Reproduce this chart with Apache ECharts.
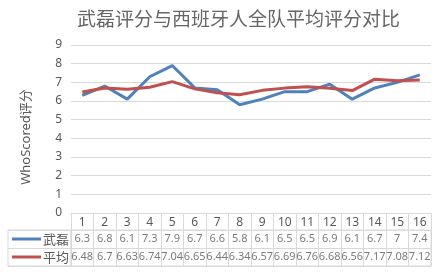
<!DOCTYPE html>
<html><head><meta charset="utf-8">
<script src="https://cdn.jsdelivr.net/npm/echarts@6/dist/echarts.min.js"></script>
<style>html,body{margin:0;padding:0;background:#fff}#c{width:441px;height:276px}</style>
</head><body><div id="c"></div>
<script>
const titleText = '武磊评分与西班牙人全队平均评分对比';
const yAxisName = 'WhoScored评分';
const categories = ['1','2','3','4','5','6','7','8','9','10','11','12','13','14','15','16'];
const seriesNames = ['武磊','平均'];
const wulei = [6.3, 6.8, 6.1, 7.3, 7.9, 6.7, 6.6, 5.8, 6.1, 6.5, 6.5, 6.9, 6.1, 6.7, 7, 7.4];
const avg = [6.48, 6.7, 6.63, 6.74, 7.04, 6.65, 6.44, 6.34, 6.57, 6.69, 6.76, 6.68, 6.56, 7.17, 7.08, 7.12];
const colors = ['#4f81bd', '#c0504d'];
const gridColor = '#d9d9d9';
const textColor = '#595959';
const font = '"Noto Sans", "Noto Sans CJK SC", sans-serif';

const allRows = [wulei, avg];
const tableData = [];
allRows.forEach((row, r) => row.forEach((v, i) => tableData.push([i, r, v])));

const chart = echarts.init(document.getElementById('c'), null, {renderer: 'canvas'});
chart.setOption({
  animation: false,
  textStyle: {fontFamily: font},
  title: {
    text: titleText, left: 72, top: 4,
    textStyle: {fontSize: 19, fontWeight: 'normal', color: '#666666', fontFamily: '"Noto Sans CJK SC", sans-serif'}
  },
  grid: [
    {left: 71, right: 10, top: 45, bottom: 63},
    {left: 71, right: 10, top: 230, height: 36, show: true, borderColor: gridColor, borderWidth: 1},
    {left: 8, width: 63, top: 230, height: 36, show: true, borderColor: gridColor, borderWidth: 1}
  ],
  xAxis: [
    {gridIndex: 0, type: 'category', data: categories, boundaryGap: true,
     axisLine: {lineStyle: {color: gridColor}},
     axisTick: {show: true, length: 17, lineStyle: {color: gridColor}},
     axisLabel: {color: textColor, fontSize: 12, margin: 4}},
    {gridIndex: 1, type: 'category', data: categories, boundaryGap: true,
     axisLine: {show: false}, axisTick: {show: false}, axisLabel: {show: false},
     splitLine: {show: true, lineStyle: {color: gridColor}}},
    {gridIndex: 2, type: 'value', min: 0, max: 1, show: false}
  ],
  yAxis: [
    {gridIndex: 0, type: 'value', min: 0, max: 9, interval: 1,
     name: yAxisName, nameLocation: 'middle', nameGap: 38,
     nameTextStyle: {color: textColor, fontSize: 13, padding: [0, 16, 0, 0]},
     axisLine: {show: false}, axisTick: {show: false},
     axisLabel: {color: textColor, fontSize: 12, margin: 9},
     splitLine: {lineStyle: {color: gridColor}}},
    {gridIndex: 1, type: 'category', data: seriesNames, inverse: true,
     axisLine: {show: false}, axisTick: {show: false}, axisLabel: {show: false},
     splitLine: {show: true, lineStyle: {color: gridColor}}},
    {gridIndex: 2, type: 'category', data: seriesNames, inverse: true,
     axisLine: {show: false}, axisTick: {show: false},
     splitLine: {show: true, lineStyle: {color: gridColor}},
     axisLabel: {inside: true, margin: 4,
       formatter: (v, i) => '{l' + i + '|}{t|' + v + '}',
       rich: {
         l0: {width: 29, height: 3, backgroundColor: colors[0]},
         l1: {width: 29, height: 3, backgroundColor: colors[1]},
         t: {fontSize: 13, color: textColor, padding: [0, 0, 0, 2], fontFamily: '"Noto Sans CJK SC", sans-serif'}
       }}}
  ],
  series: [
    {name: seriesNames[0], type: 'line', data: wulei, xAxisIndex: 0, yAxisIndex: 0,
     symbol: 'none', lineStyle: {width: 3, color: colors[0]}, itemStyle: {color: colors[0]}},
    {name: seriesNames[1], type: 'line', data: avg, xAxisIndex: 0, yAxisIndex: 0,
     symbol: 'none', lineStyle: {width: 3, color: colors[1]}, itemStyle: {color: colors[1]}},
    {type: 'scatter', xAxisIndex: 1, yAxisIndex: 1, data: tableData, symbolSize: 1,
     itemStyle: {color: 'rgba(0,0,0,0)'}, silent: true,
     label: {show: true, position: 'inside', color: textColor, fontSize: 11,
       formatter: p => String(p.value[2])}}
  ]
});
</script></body></html>
